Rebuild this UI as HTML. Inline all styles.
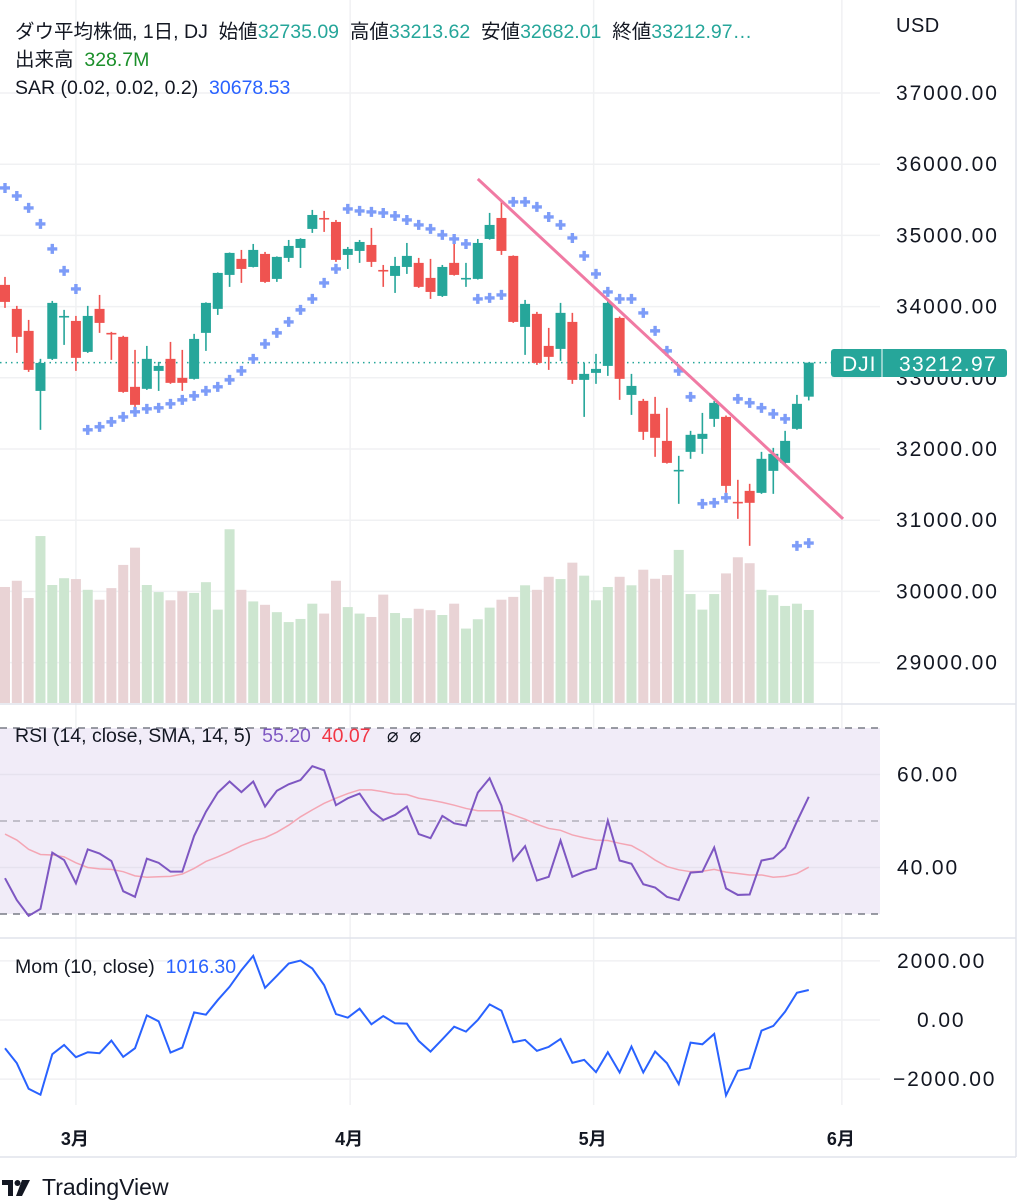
<!DOCTYPE html>
<html><head><meta charset="utf-8"><style>
body{margin:0;background:#fff;width:1020px;height:1200px;overflow:hidden;font-family:"Liberation Sans","Noto Sans CJK JP",sans-serif;}
svg{position:absolute;left:0;top:0}
</style></head><body>
<svg id="chart" width="1020" height="1200" font-family="Liberation Sans, Noto Sans CJK JP, sans-serif"></svg>
<script>
const opens=[34305,33968,33659,32816,33266,33855,33799,33364,33968,33631,33575,32873,32845,33097,33266,32999,32985,33631,33968,34445,34670,34557,34740,34389,34684,34824,35091,35245,35189,34726,34782,34866,34515,34431,34557,34614,34403,34150,34614,34389,34389,34950,35245,34712,33715,33898,33448,33406,33785,32971,33069,33167,33841,32760,32676,32494,32114,31693,31960,32142,32423,32451,31258,31412,31384,31693,31805,32283,32735.09];
const highs=[34417,34010,33813,33266,34080,33954,33869,34010,34164,33645,33590,33392,33448,33224,33504,33392,33617,34060,34480,34760,34796,34880,34768,34705,34936,34960,35358,35344,35217,34838,34936,35105,34585,34698,34894,34684,34670,34585,34880,34614,34950,35316,35470,34720,34094,33926,33701,34052,33912,33209,33336,34108,33860,33055,32704,32732,32578,31904,32255,32507,32676,32470,31567,31511,31960,32016,32255,32760,33213.62];
const lows=[33982,33350,33083,32269,33250,33462,33097,33350,33631,33252,32790,32550,32830,32816,32915,32816,32975,33378,33883,34277,34333,34550,34333,34347,34628,34543,35035,35049,34628,34529,34614,34557,34277,34192,34459,34263,34108,34136,34435,34277,34380,34940,34726,33771,33322,33181,33111,33238,32915,32451,32915,33027,32690,32479,32128,31890,31795,31230,31862,31932,32311,31384,31019,30640,31370,31370,31777,32270,32682.01];
const closes=[34066,33575,33111,33209,34052,33869,33280,33869,33771,33617,32802,32620,33266,33167,32929,32929,33546,34052,34473,34754,34529,34796,34347,34698,34852,34950,35287,35231,34656,34810,34908,34628,34501,34571,34712,34277,34206,34557,34445,34403,34894,35147,34782,33785,34038,33209,33294,33912,32971,33055,33125,34052,32985,32886,32241,32157,31805,31707,32199,32213,32648,31482,31244,31244,31862,31932,32114,32634,33212.97];
const volumes=[410,432,371,590,417,441,438,400,365,406,488,549,417,392,363,395,389,427,330,614,400,359,347,321,286,297,351,316,432,339,316,304,383,318,300,333,328,311,351,263,296,337,365,375,416,400,446,438,496,450,363,410,446,416,471,439,452,541,385,330,385,458,515,494,400,381,343,351,328.7];
const sar=[35666,35554,35386,35161,34810,34501,34248,32269,32311,32381,32451,32522,32564,32578,32634,32690,32746,32816,32873,32971,33097,33266,33476,33631,33785,33954,34108,34333,34529,35372,35344,35330,35315,35273,35217,35147,35091,35007,34950,34880,34108,34122,34164,35470,35470,35400,35259,35147,34964,34712,34459,34206,34108,34108,33911,33659,33378,33097,32732,31230,31244,31314,32704,32648,32578,32493,32423,30640,30678.53];
const rsi=[37.7,33.0,29.6,31.1,43.2,41.6,36.6,43.9,43.0,41.4,34.9,33.7,41.9,41.0,39.1,39.1,46.8,52.0,56.1,58.5,56.2,58.5,53.1,56.5,57.9,58.8,61.8,60.9,53.4,54.9,55.9,52.2,50.2,51.3,53.1,47.2,46.3,51.1,49.5,49.0,56.1,59.2,53.3,41.5,44.6,37.2,38.0,45.8,38.0,39.1,39.8,50.1,41.5,40.8,36.4,35.7,33.7,33.0,38.9,39.1,44.3,35.5,34.1,34.2,41.5,42.0,44.3,49.9,55.2];
const rsiSma=[47.2,45.9,43.9,42.8,42.7,42.3,41.0,40.0,39.7,39.6,39.1,38.2,37.9,38.0,38.1,38.6,39.8,41.3,42.3,43.4,44.7,45.7,46.4,47.6,49.1,50.9,52.4,53.8,54.9,55.9,56.7,56.7,56.3,55.8,55.7,54.9,54.5,54.0,53.4,52.7,52.2,52.2,52.2,51.3,50.4,49.3,48.4,48.0,47.0,46.4,45.9,45.8,45.2,44.7,43.3,41.6,40.2,39.5,39.1,39.2,39.6,39.0,38.7,38.4,38.4,37.9,38.1,38.7,40.07];
const mom=[-955,-1461,-2327,-2529,-1158,-843,-1259,-1090,-1124,-697,-1248,-955,157,-45,-1102,-933,259,180,674,1124,1686,2169,1090,1495,1911,2012,1742,1180,202,79,382,-146,135,-112,-124,-708,-1068,-652,-225,-393,0,528,315,-753,-674,-1045,-910,-641,-1450,-1349,-1765,-1090,-1776,-899,-1776,-1068,-1461,-2169,-764,-821,-472,-2551,-1720,-1630,-360,-202,281,922,1016];
const priceTicks=[37000,36000,35000,34000,33000,32000,31000,30000,29000];
const rsiTicks=[60,40];
const momTicks=[2000,0,-2000];
const monthLabels=["3月","4月","5月","6月"];
const monthIndex=[6,29.2,49.8,70.8];
const trendIdx=[40.0,70.9];
const trendPrice=[35793,31019];

const NS="http://www.w3.org/2000/svg";
const svg=document.getElementById('chart');
function el(tag,attrs,parent){const e=document.createElementNS(NS,tag);for(const k in attrs)e.setAttribute(k,attrs[k]);(parent||svg).appendChild(e);return e;}
const xB=i=>5+i*11.82;
const yP=p=>93+(37000-p)*0.0712;
const yV=v=>703-v/3.534;
const yR=r=>821-(r-50)*4.65;
const yM=m=>1020-m*0.02955;
const GREEN="#26a69a",RED="#ef5350";
const AX={"font-size":21,"letter-spacing":1.9,fill:"#131722"};

const grid=el('g',{});


priceTicks.forEach(p=>el('line',{x1:0,x2:880,y1:yP(p),y2:yP(p),stroke:"#f0f1f3","stroke-width":1.5},grid));
monthIndex.forEach(i=>el('line',{x1:xB(i),x2:xB(i),y1:0,y2:1105,stroke:"#f0f1f3","stroke-width":1.5},grid));
el('line',{x1:0,x2:1016,y1:704,y2:704,stroke:"#e0e3eb","stroke-width":1.5});
el('line',{x1:0,x2:1016,y1:938,y2:938,stroke:"#e0e3eb","stroke-width":1.5});
el('line',{x1:0,x2:1016,y1:1157,y2:1157,stroke:"#e0e3eb","stroke-width":1.5});
el('line',{x1:1016,x2:1016,y1:0,y2:1157,stroke:"#e0e3eb","stroke-width":1.5});

const vg=el('g',{});


volumes.forEach((v,i)=>{const up=closes[i]>=opens[i];
 const r=el('rect',{x:xB(i)-5,y:yV(v),width:10,height:703-yV(v),fill:up?"#cde6d0":"#e9d3d5"},vg);
 
 });

el('line',{x1:0,x2:832,y1:yP(closes[68]),y2:yP(closes[68]),stroke:GREEN,"stroke-width":1.5,"stroke-dasharray":"1.5 4"});

const cg=el('g',{});


opens.forEach((o,i)=>{const c=closes[i];const up=c>=o;const col=up?GREEN:RED;
 el('line',{x1:xB(i),x2:xB(i),y1:yP(highs[i]),y2:yP(lows[i]),stroke:col,"stroke-width":1.6},cg);
 const t=Math.min(yP(o),yP(c));const h=Math.max(1.6,Math.abs(yP(o)-yP(c)));
 const r=el('rect',{x:xB(i)-5,y:t,width:10,height:h,fill:col},cg);
 
 });

const sg=el('g',{});


sar.forEach((s,i)=>{const x=xB(i),y=yP(s);
 const p=el('path',{d:`M${x-5} ${y}H${x+5}M${x} ${y-5}V${y+5}`,stroke:"#7d9cf8","stroke-width":3.4},sg);
 
 });

const tl=el('line',{x1:xB(trendIdx[0]),y1:yP(trendPrice[0]),x2:xB(trendIdx[1]),y2:yP(trendPrice[1]),stroke:"#f07aa3","stroke-width":3});



const pa=el('g',AX);


const usd=el('text',{x:896,y:32,"letter-spacing":0.5,"font-size":20},pa);usd.textContent="USD";
priceTicks.forEach(p=>{const t=el('text',{x:896,y:yP(p)+7},pa);t.textContent=p.toFixed(2);});
const lab=el('g',{});


el('rect',{x:831,y:349,width:176,height:28,rx:3,fill:GREEN},lab);
el('line',{x1:882,x2:882,y1:349,y2:377,stroke:"#fff","stroke-width":1},lab);
const t1=el('text',{x:842,y:371,"font-size":21,fill:"#fff","letter-spacing":1},lab);t1.textContent="DJI";
const t2=el('text',{x:899,y:371,"font-size":21,fill:"#fff","letter-spacing":1.3},lab);t2.textContent=closes[68].toFixed(2);

const rg=el('g',{});


el('rect',{x:0,y:yR(70),width:880,height:yR(30)-yR(70),fill:"#f1ecf8"},rg);
rsiTicks.forEach(r=>el('line',{x1:0,x2:880,y1:yR(r),y2:yR(r),stroke:"#e6e2ee","stroke-width":1.5},rg));
el('line',{x1:0,x2:880,y1:yR(70),y2:yR(70),stroke:"#787b86","stroke-width":1.5,"stroke-dasharray":"7 6"},rg);
el('line',{x1:0,x2:880,y1:yR(30),y2:yR(30),stroke:"#787b86","stroke-width":1.5,"stroke-dasharray":"7 6"},rg);
el('line',{x1:0,x2:880,y1:yR(50),y2:yR(50),stroke:"#b2b0ba","stroke-width":1.5,"stroke-dasharray":"7 6"},rg);
const sm=el('polyline',{points:rsiSma.map((v,i)=>xB(i)+","+yR(v)).join(" "),fill:"none",stroke:"#f4a6b4","stroke-width":1.5},rg);


const rl=el('polyline',{points:rsi.map((v,i)=>xB(i)+","+yR(v)).join(" "),fill:"none",stroke:"#7e57c2","stroke-width":2},rg);


const rax=el('g',AX,rg);
rsiTicks.forEach(r=>{const t=el('text',{x:897,y:yR(r)+7},rax);t.textContent=r.toFixed(2);});

const mg=el('g',{});


momTicks.forEach(m=>el('line',{x1:0,x2:880,y1:yM(m),y2:yM(m),stroke:"#f0f1f3","stroke-width":1.5},mg));
const ml=el('polyline',{points:mom.map((v,i)=>xB(i)+","+yM(v)).join(" "),fill:"none",stroke:"#2962ff","stroke-width":2},mg);


const max=el('g',AX,mg);
momTicks.forEach(m=>{const s=m<0?"\u22122000.00":m.toFixed(2);const t=el('text',{x:m===0?917:(m<0?893:897),y:yM(m)+7},max);t.textContent=s;});

const ta=el('g',{"font-size":18,"font-weight":"bold",fill:"#131722","text-anchor":"middle"});


monthLabels.forEach((m,i)=>{const t=el('text',{x:xB(monthIndex[i])-1,y:1145},ta);t.textContent=m;});
</script>
<div style="position:absolute;left:15px;top:18px;font-size:19.5px;color:#131722;line-height:28px;white-space:nowrap">
<div>ダウ平均株価, 1日, DJ&nbsp; 始値<span style="color:#26a69a">32735.09</span>&nbsp; 高値<span style="color:#26a69a">33213.62</span>&nbsp; 安値<span style="color:#26a69a">32682.01</span>&nbsp; 終値<span style="color:#26a69a">33212.97…</span></div>
<div>出来高&nbsp; <span style="color:#1b8f2a">328.7M</span></div>
<div>SAR (0.02, 0.02, 0.2)&nbsp; <span style="color:#2962ff">30678.53</span></div>
</div>
<div style="position:absolute;left:15px;top:724px;font-size:19.5px;color:#131722;white-space:nowrap">RSI (14, close, SMA, 14, 5)&nbsp; <span style="color:#7e57c2">55.20</span>&nbsp; <span style="color:#f23645">40.07</span>&nbsp; &nbsp;⌀ &nbsp;⌀</div>
<div style="position:absolute;left:15px;top:956px;font-size:19.5px;color:#131722;white-space:nowrap">Mom (10, close)&nbsp; <span style="color:#2962ff">1016.30</span></div>
<div style="position:absolute;left:2px;top:1174px;display:flex;align-items:center;font-size:23px;color:#131722">
<svg width="34" height="20" viewBox="0 0 34 20" style="position:static;margin-right:6px"><path d="M0 2H11V18H6V7H0Z M20 2H28L20 18H14Z" fill="#131722"/><circle cx="15.5" cy="5" r="3" fill="#131722"/></svg>TradingView</div>
</body></html>
